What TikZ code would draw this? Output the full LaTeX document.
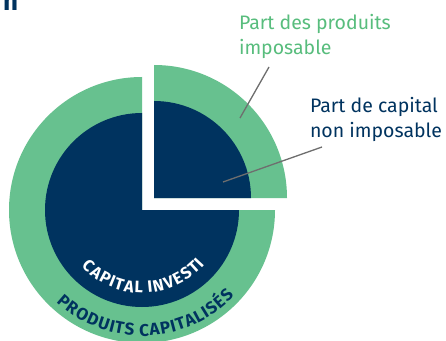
\documentclass[tikz,border=0pt]{standalone}
\usepackage{fontspec}
\setmainfont{Fira Sans}
\usetikzlibrary{decorations.text}
\begin{document}
\begin{tikzpicture}[x=1pt,y=1pt]
\definecolor{ringColor}{RGB}{103,193,143}
\definecolor{labelColor}{RGB}{88,189,125}
\definecolor{capColor}{RGB}{0,51,95}
\definecolor{drawColor}{RGB}{110,110,110}
\tikzset{
  leader/.style={draw=drawColor,line width=1.3pt},
  callout/.style={anchor=north west,align=left,inner sep=0pt,outer sep=0pt,font=\fontsize{19.5}{25}\selectfont},
  arctext/.style n args={3}{decorate,decoration={text effects along path,text={#1},
    text effects/.cd,fit text to path,
    every character/.style={inner sep=0pt,font=\fontsize{#3}{#3}\selectfont\bfseries,text=#2},
    text along path}}
}
\path[use as bounding box,fill=white] (0,0) rectangle (446,340);

% centres of the pie and of the cut-out quarter
\coordinate (pieC) at (142,130);
\coordinate (quarterC) at (154,142);

\fill[ringColor] (pieC) -- ++(90:133) arc[start angle=90,end angle=360,radius=133] -- cycle;
\fill[capColor] (pieC) -- ++(90:97) arc[start angle=90,end angle=360,radius=97] -- cycle;

\fill[ringColor] (quarterC) -- ++(0:133) arc[start angle=0,end angle=90,radius=133] -- cycle;
\fill[capColor] (quarterC) -- ++(0:97) arc[start angle=0,end angle=90,radius=97] -- cycle;

% curved labels
\path[arctext={CAPITAL INVESTI}{white}{16.5}]
  ([shift={(223:83)}]pieC) arc[start angle=223,end angle=319,radius=83];
\path[arctext={PRODUITS CAPITALISÉS}{capColor}{17}]
  ([shift={(227:126)}]pieC) arc[start angle=227,end angle=317,radius=126];

% call-outs
\node[callout,text=labelColor] (prodLabel) at (239,326) {Part des produits\\imposable};
\node[callout,text=capColor] (capLabel) at (310,243) {Part de capital\\non imposable};

\coordinate (prodFrom) at (269,273);
\coordinate (prodTip) at (240,222);
\coordinate (capFrom) at (322,193);
\coordinate (capTip) at (223,158);
\draw[leader] (prodFrom) -- (prodTip);
\draw[leader] (capFrom) -- (capTip);

% cut-off title
\node[anchor=base west,inner sep=0pt,text=capColor,font=\fontsize{26}{26}\selectfont\bfseries] (titleCut) at (3,329) {n};
\end{tikzpicture}
\end{document}
